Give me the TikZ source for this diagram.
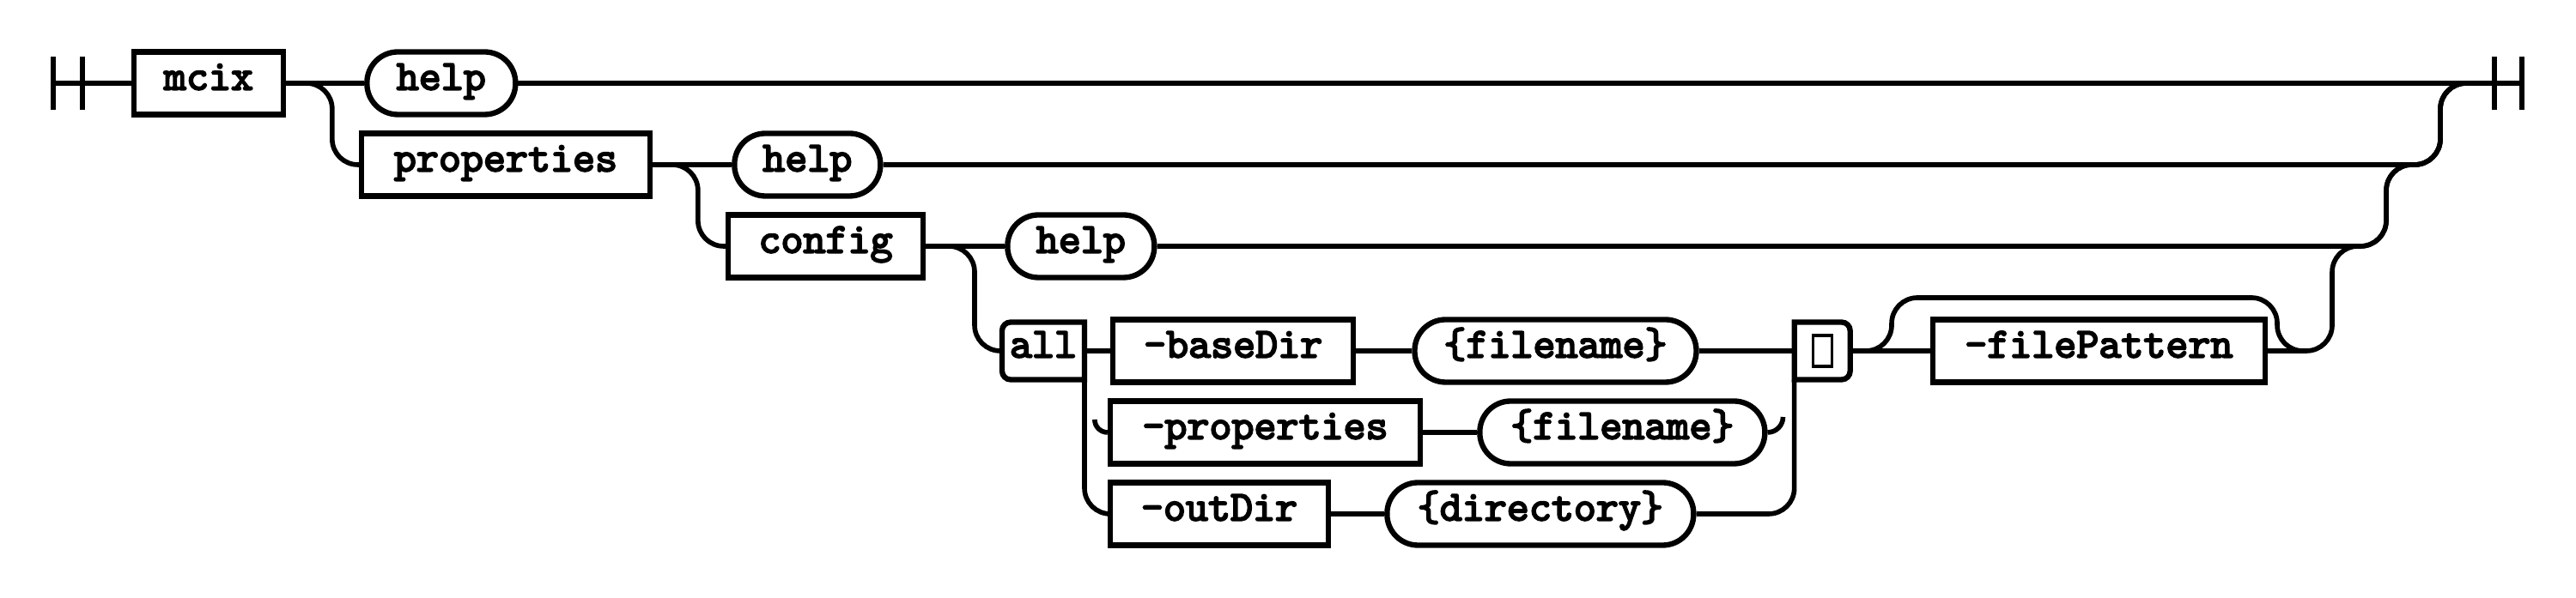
\documentclass[tikz,border=0pt]{standalone}
\usepackage{fontspec}
\setmonofont{lmmono10-regular.otf}[FakeBold=4]
\usetikzlibrary{positioning}

\begin{document}
\begin{tikzpicture}[font=\ttfamily\fontsize{14.1}{16}\selectfont, line width=1.6pt,
	box/.style={draw, line width=1.8pt, minimum height=0.73cm, inner sep=0pt, text height=1.6ex, text depth=0.6ex},
	pill/.style={box, rounded corners=0.36cm},
	flat/.style={minimum height=0.67cm, inner sep=0pt, outer sep=0pt, text height=1.6ex, text depth=0.6ex},
	rr/.style={rounded corners=0.3cm}]
	\useasboundingbox (0,0) rectangle (30,-6.97);
	\coordinate (s1) at (0.62,-0.97);
	\coordinate (s2) at (0.96,-0.97);
	\coordinate (e1) at (29.05,-0.97);
	\coordinate (e2) at (29.37,-0.97);
	\coordinate (j2) at (28.42,-0.97);
	\coordinate (j3) at (27.79,-1.92);
	\coordinate (j4) at (27.16,-2.87);
	\coordinate (l1) at (22.03,-3.47);
	\coordinate (l2) at (26.52,-4.09);
	\coordinate (l3) at (26.84,-4.09);

	\node[box, minimum width=1.74cm] (mcix) at (2.43,-0.97) {mcix};
	\node[pill, minimum width=1.73cm, right=0.91cm of mcix] (help1) {help};
	\node[box, minimum width=3.36cm] (props) at (5.89,-1.92) {properties};
	\node[pill, minimum width=1.70cm, right=0.92cm of props] (help2) {help};
	\node[box, minimum width=2.27cm] (config) at (9.615,-2.87) {config};
	\node[pill, minimum width=1.71cm, right=0.92cm of config] (help3) {help};
	\node[flat, minimum width=0.96cm] (all) at (12.15,-4.09) {all};
	\node[box, minimum width=2.80cm, right=0.30cm of all] (bdir) {-baseDir};
	\node[pill, minimum width=3.28cm, right=0.65cm of bdir] (fn1) {\{filename\}};
	\node[flat, minimum width=0.65cm, right=1.11cm of fn1] (tofu) {};
	\node[box, minimum width=3.87cm, right=0.93cm of tofu] (fpat) {-filePattern};
	\node[box, minimum width=3.61cm] (popt) at (14.735,-5.04) {-properties};
	\node[pill, minimum width=3.32cm, right=0.63cm of popt] (fn2) {\{filename\}};
	\node[box, minimum width=2.54cm] (odir) at (14.20,-5.99) {-outDir};
	\node[pill, minimum width=3.57cm, right=0.62cm of odir] (dirn) {\{directory\}};

	\draw[line width=1.8pt] (all.south east) -- (all.north east) -- ([xshift=0.1cm]all.north west) arc[start angle=90, end angle=180, radius=0.1cm] -- ([yshift=0.1cm]all.south west) arc[start angle=180, end angle=270, radius=0.1cm] -- cycle;
	\draw[line width=1.8pt] (tofu.south west) -- (tofu.north west) -- ([xshift=-0.1cm]tofu.north east) arc[start angle=90, end angle=0, radius=0.1cm] -- ([yshift=0.1cm]tofu.south east) arc[start angle=0, end angle=-90, radius=0.1cm] -- cycle;
	\draw[line width=0.9pt] ([shift={(-0.11,-0.18)}]tofu.center) rectangle ([shift={(0.11,0.18)}]tofu.center);

	\draw ([yshift=0.31cm]s1) -- ([yshift=-0.31cm]s1);
	\draw ([yshift=0.31cm]s2) -- ([yshift=-0.31cm]s2);
	\draw ([yshift=0.31cm]e1) -- ([yshift=-0.31cm]e1);
	\draw ([yshift=0.31cm]e2) -- ([yshift=-0.31cm]e2);

	\draw (s1) -- (mcix);
	\draw (mcix) -- (help1) -- (e2);
	\draw[rr] (mcix.east) -| ([xshift=-0.31cm]props.west) -- (props);
	\draw (props) -- (help2);
	\draw[rr] (help2.east) -| (j2) -- (e2);
	\draw[rr] (props.east) -| ([xshift=-0.32cm]config.west) -- (config);
	\draw (config) -- (help3);
	\draw[rr] (help3.east) -| (j3) -| (j2) -- (e2);
	\draw[rr] (config.east) -| ([xshift=-0.32cm]all.west) -- (all);
	\draw (all) -- (bdir) -- (fn1) -- (tofu) -- (fpat);
	\draw[rr] (fpat.east) -| (j4) -| (j3) -| (j2) -- (e2);
	\draw[rr] (tofu.east) -| (l1) -| (l2) -- (l3);
	\draw[rr] (all.south east) |- (odir.west);
	\draw (popt) -- (fn2);
	\draw (odir) -- (dirn);
	\draw[rr] (tofu.south west) |- (dirn.east);
	\draw (popt.west) arc[start angle=270, end angle=180, radius=0.15cm];
	\draw (fn2.east) arc[start angle=270, end angle=360, radius=0.18cm];
\end{tikzpicture}
\end{document}
